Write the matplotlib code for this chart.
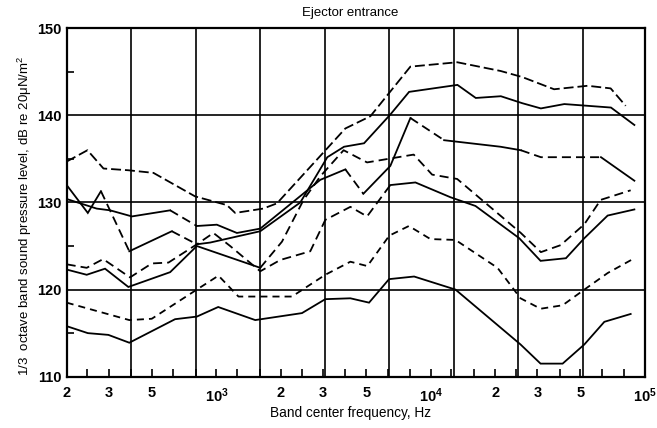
import matplotlib
matplotlib.use("Agg")
import matplotlib.pyplot as plt
from matplotlib.ticker import FixedLocator, FixedFormatter, NullFormatter

plt.rcParams['font.family'] = ['Liberation Sans', 'DejaVu Sans']
plt.rcParams['mathtext.default'] = 'regular'

# ---- data ----
c1_f = [200, 250, 297, 388, 508, 795, 1119, 1223, 1653, 1916, 3996, 5228, 8039, 13300, 21180, 26750, 37650, 54000, 69160, 81270]
c1_db = [134.7, 136.0, 133.9, 133.7, 133.4, 130.7, 129.7, 128.8, 129.3, 129.9, 138.5, 139.9, 145.6, 146.1, 145.1, 144.4, 143.0, 143.4, 143.1, 141.1]

c2_f = [200, 251, 289, 392, 619, 810, 935, 1601, 2462, 3292, 3940, 4886, 6480, 7927, 13330, 16230, 21250, 26750, 32670, 42030, 69390, 89230]
c2_db = [132.0, 128.8, 131.3, 124.4, 126.7, 125.2, 125.4, 126.7, 130.0, 135.2, 136.4, 136.8, 140.1, 142.7, 143.5, 142.0, 142.2, 141.4, 140.8, 141.3, 140.9, 138.9]

c3_f = [200, 276, 319, 403, 608, 810, 1004, 1246, 1601, 3052, 3996, 4849, 6480, 8039, 11550, 21180, 26340, 32670, 62320, 89230]
c3_db = [130.4, 129.3, 129.1, 128.4, 129.1, 127.3, 127.45, 126.5, 127.0, 132.6, 133.8, 131.0, 134.2, 139.7, 137.15, 136.4, 136.0, 135.2, 135.2, 132.5]

c4_f = [200, 248, 302, 388, 608, 810, 1601, 2022, 2551, 3052, 3922, 5046, 8330, 10150, 13290, 26340, 32670, 40390, 52120, 62120, 85750]
c4_db = [122.3, 121.7, 122.4, 120.3, 122.0, 125.0, 122.5, 125.5, 130.3, 133.0, 136.0, 134.6, 135.5, 133.2, 132.7, 126.5, 124.3, 125.1, 127.5, 130.3, 131.4]

c5_f = [200, 248, 296, 395, 499, 597, 810, 968, 1159, 1601, 1985, 2741, 3221, 4217, 5046, 6480, 8484, 12370, 16180, 25890, 32560, 42760, 52120, 66960, 89230]
c5_db = [122.9, 122.5, 123.5, 121.4, 123.0, 123.1, 125.2, 126.5, 125.0, 122.1, 123.4, 124.4, 128.0, 129.5, 128.4, 132.0, 132.3, 130.6, 129.6, 125.9, 123.3, 123.6, 125.9, 128.5, 129.2]

c6_f = [200, 392, 499, 810, 1022, 1267, 2251, 3221, 4217, 5062, 6412, 7910, 9970, 13050, 20500, 26250, 32560, 41270, 52120, 66960, 89230]
c6_db = [118.5, 116.5, 116.65, 120.0, 121.6, 119.2, 119.2, 121.7, 123.2, 122.7, 126.2, 127.3, 125.8, 125.7, 122.5, 119.0, 117.8, 118.2, 120.0, 121.9, 123.6]

c7_f = [200, 251, 313, 392, 641, 810, 1019, 1517, 2507, 3221, 4217, 5155, 6392, 8366, 13050, 26250, 32560, 41270, 52120, 64620, 85750]
c7_db = [115.8, 115.0, 114.8, 113.9, 116.6, 116.9, 118.0, 116.5, 117.3, 118.9, 119.0, 118.5, 121.2, 121.5, 120.0, 113.7, 111.5, 111.5, 113.7, 116.3, 117.2]

label_freqs = [200, 315, 500, 1000, 2000, 3150, 5000, 10000, 20000, 31500, 50000, 100000]
label_texts = ['2', '3', '5', '$10^3$', '2', '3', '5', '$10^4$', '2', '3', '5', '$10^5$']
band_freqs = [250, 400, 630, 800, 1250, 1600, 2500, 4000, 6300, 8000, 12500, 16000,
              25000, 40000, 63000, 80000]
grid_freqs = [400, 800, 1600, 3200, 6400, 12800, 25600, 51200]
grid_db = [120, 130, 140]
y_ticks = [110, 120, 130, 140, 150]
y_minor = [115, 125, 135, 145]

# ---- styles (which stretch of each curve is solid or dashed) ----
SOLID = '-'
LONGDASH = (0, (5.5, 2.2))
DASH = (0, (5.0, 2.8))
SHORTDASH = (0, (3.9, 2.8))
c1_style = [(0, LONGDASH)]
c2_style = [(0, SOLID), (2, DASH), (3, SOLID), (4, DASH), (5, SOLID)]
c3_style = [(0, SOLID), (4, DASH), (5, SOLID), (10, DASH), (11, SOLID),
            (13, DASH), (14, SOLID), (16, DASH), (18, SOLID)]
c4_style = [(0, SOLID), (6, DASH)]
c5_style = [(0, DASH), (15, SOLID)]
c6_style = [(0, SHORTDASH)]
c7_style = [(0, SOLID)]

LW = 1.3

fig = plt.figure(figsize=(6.57, 4.28), dpi=100)
ax = fig.add_axes([0.1015, 0.1199, 0.8802, 0.8140])
ax.set_xscale('log')
ax.set_xlim(200, 100000)
ax.set_ylim(110, 150)

for g in grid_freqs:
    ax.axvline(g, color='black', lw=1.2, zorder=1)
for g in grid_db:
    ax.axhline(g, color='black', lw=1.2, zorder=1)


def draw(freqs, levels, style):
    bounds = [s[0] for s in style] + [len(freqs) - 1]
    for k, (start, ls) in enumerate(style):
        end = bounds[k + 1]
        ax.plot(freqs[start:end + 1], levels[start:end + 1], color='black',
                lw=LW, linestyle=ls, solid_joinstyle='miter', zorder=3)


draw(c1_f, c1_db, c1_style)
draw(c2_f, c2_db, c2_style)
draw(c3_f, c3_db, c3_style)
draw(c4_f, c4_db, c4_style)
draw(c5_f, c5_db, c5_style)
draw(c6_f, c6_db, c6_style)
draw(c7_f, c7_db, c7_style)

for s in ax.spines.values():
    s.set_linewidth(1.6)

ax.xaxis.set_major_locator(FixedLocator(label_freqs))
ax.xaxis.set_major_formatter(FixedFormatter(label_texts))
ax.xaxis.set_minor_locator(FixedLocator(band_freqs))
ax.xaxis.set_minor_formatter(NullFormatter())
ax.tick_params(axis='x', which='both', direction='in', length=6, width=1.2,
               top=False, pad=7, labelsize=10.5)
ax.set_yticks(y_ticks)
ax.set_yticks(y_minor, minor=True)
ax.tick_params(axis='y', which='major', direction='in', length=0, right=False,
               pad=4, labelsize=10.5)
ax.tick_params(axis='y', which='minor', direction='in', length=5, width=1.2, right=False)
for t in ax.get_xticklabels() + ax.get_yticklabels():
    t.set_fontweight('bold')

ax.set_title('Ejector entrance', fontsize=9.5, pad=8.5, x=0.49)
ax.set_xlabel('Band center frequency, Hz', fontsize=9.8)
ax.xaxis.set_label_coords(0.49, -0.083)
ax.set_ylabel('1/3  octave band sound pressure level, dB re 20\u03bcN/m$^2$',
              fontsize=9.5)
ax.yaxis.set_label_coords(-0.057, 0.461)

fig.savefig('out.png', dpi=100)
